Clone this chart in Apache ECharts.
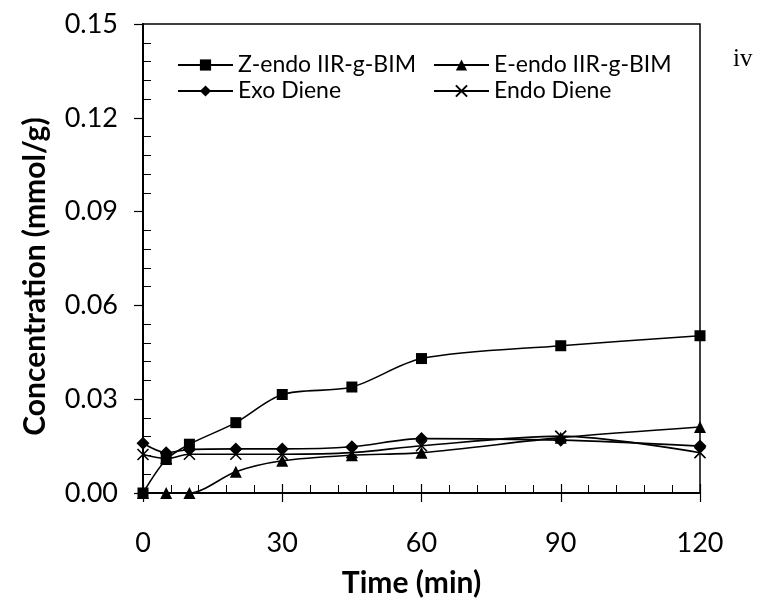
<!DOCTYPE html>
<html>
<head>
<meta charset="utf-8">
<script src="https://cdn.jsdelivr.net/npm/echarts@6/dist/echarts.min.js"></script>
<style>
html,body{margin:0;padding:0;background:#fff;}
#chart{width:763px;height:606px;}
</style>
</head>
<body>
<div id="chart"></div>
<script>
var times = [0, 5, 10, 20, 30, 45, 60, 90, 120];
var zEndo = [0, 0.0107, 0.0156, 0.0225, 0.0315, 0.0339, 0.043, 0.0471, 0.0503];
var eEndo = [0, 0, 0, 0.0068, 0.0103, 0.0121, 0.0129, 0.0177, 0.0211];
var exoDiene = [0.0159, 0.0129, 0.0139, 0.0141, 0.0141, 0.0148, 0.0174, 0.0169, 0.015];
var endoDiene = [0.0123, 0.011, 0.0124, 0.0124, 0.0124, 0.0129, 0.0151, 0.0182, 0.0129];
var seriesNames = ['Z-endo IIR-g-BIM', 'E-endo IIR-g-BIM', 'Exo Diene', 'Endo Diene'];
var xTicks = [0, 30, 60, 90, 120];
var yTicks = [0, 0.03, 0.06, 0.09, 0.12, 0.15];

function pairs(vals) { return times.map(function (t, i) { return [t, vals[i]]; }); }

var font = 'Lato';
var xPath = 'path://M0,0 L10,10 M10,0 L0,10';

function mk(name, vals, symbol, size) {
  return {
    name: name, type: 'line', data: pairs(vals), smooth: 0.3,
    symbol: symbol, symbolSize: size,
    xAxisIndex: 0, yAxisIndex: 0,
    lineStyle: { color: '#000', width: 1.6 },
    itemStyle: { color: '#000', borderColor: '#000', borderWidth: symbol === xPath ? 1.6 : 0 },
    emphasis: { disabled: true },
    animation: false
  };
}

var chart = echarts.init(document.getElementById('chart'));
var legendCommon = {
  orient: 'vertical', itemWidth: 55, itemHeight: 14, itemGap: 0, padding: 0,
  textStyle: { fontFamily: font, fontSize: 23, lineHeight: 26, color: '#000' },
  selectedMode: false
};
chart.setOption({
  backgroundColor: '#fff',
  animation: false,
  grid: { left: 143, right: 63, top: 24, bottom: 113, show: true, borderColor: '#000', borderWidth: 1.5 },
  legend: [
    Object.assign({ data: [seriesNames[0], seriesNames[2]], left: 177, top: 52 }, legendCommon),
    Object.assign({ data: [seriesNames[1], seriesNames[3]], left: 433, top: 52 }, legendCommon)
  ],
  graphic: [{ type: 'text', left: 733, top: 47, style: { text: 'iv', font: '25px "Liberation Serif"', fill: '#000' } }],
  xAxis: [{
    type: 'value', min: xTicks[0], max: xTicks[xTicks.length - 1], interval: 30, position: 'bottom',
    name: 'Time (min)', nameLocation: 'middle', nameGap: 75,
    nameTextStyle: { fontFamily: font, fontWeight: 'bold', fontSize: 30, color: '#000', padding: [0, 20, 0, 0] },
    axisLine: { onZero: false, lineStyle: { color: '#000', width: 2 } },
    axisTick: { show: true, inside: false, length: 9, lineStyle: { color: '#000', width: 1.2 } },
    axisLabel: { fontFamily: font, fontSize: 27, color: '#000', margin: 37 },
    splitLine: { show: false }
  }, {
    type: 'value', min: xTicks[0], max: xTicks[xTicks.length - 1], interval: 30, position: 'bottom',
    axisLine: { show: false, onZero: false },
    axisTick: { show: true, inside: true, length: 9, lineStyle: { color: '#000', width: 1.2 } },
    minorTick: { show: true, splitNumber: 5, length: 8, lineStyle: { color: '#000', width: 1 } },
    axisLabel: { show: false }, splitLine: { show: false }
  }],
  yAxis: [{
    type: 'value', min: yTicks[0], max: yTicks[yTicks.length - 1], interval: 0.03,
    name: 'Concentration (mmol/g)', nameLocation: 'middle', nameGap: 93,
    nameTextStyle: { fontFamily: font, fontWeight: 'bold', fontSize: 30, color: '#000', padding: [0, 36, 0, 0] },
    axisLine: { onZero: false, lineStyle: { color: '#000', width: 2 } },
    axisTick: { show: true, inside: false, length: 9, lineStyle: { color: '#000', width: 1.2 } },
    axisLabel: { fontFamily: font, fontSize: 27, color: '#000', margin: 25, formatter: function (v) { return v.toFixed(2); } },
    splitLine: { show: false }
  }, {
    type: 'value', min: yTicks[0], max: yTicks[yTicks.length - 1], interval: 0.03, position: 'left',
    axisLine: { show: false, onZero: false },
    axisTick: { show: false, inside: true },
    minorTick: { show: true, splitNumber: 5, length: 8, lineStyle: { color: '#000', width: 1 } },
    axisLabel: { show: false }, splitLine: { show: false }
  }],
  series: [
    mk(seriesNames[0], zEndo, 'rect', 11),
    mk(seriesNames[1], eEndo, 'triangle', 12),
    mk(seriesNames[2], exoDiene, 'diamond', 13),
    mk(seriesNames[3], endoDiene, xPath, 11)
  ]
});
</script>
</body>
</html>
